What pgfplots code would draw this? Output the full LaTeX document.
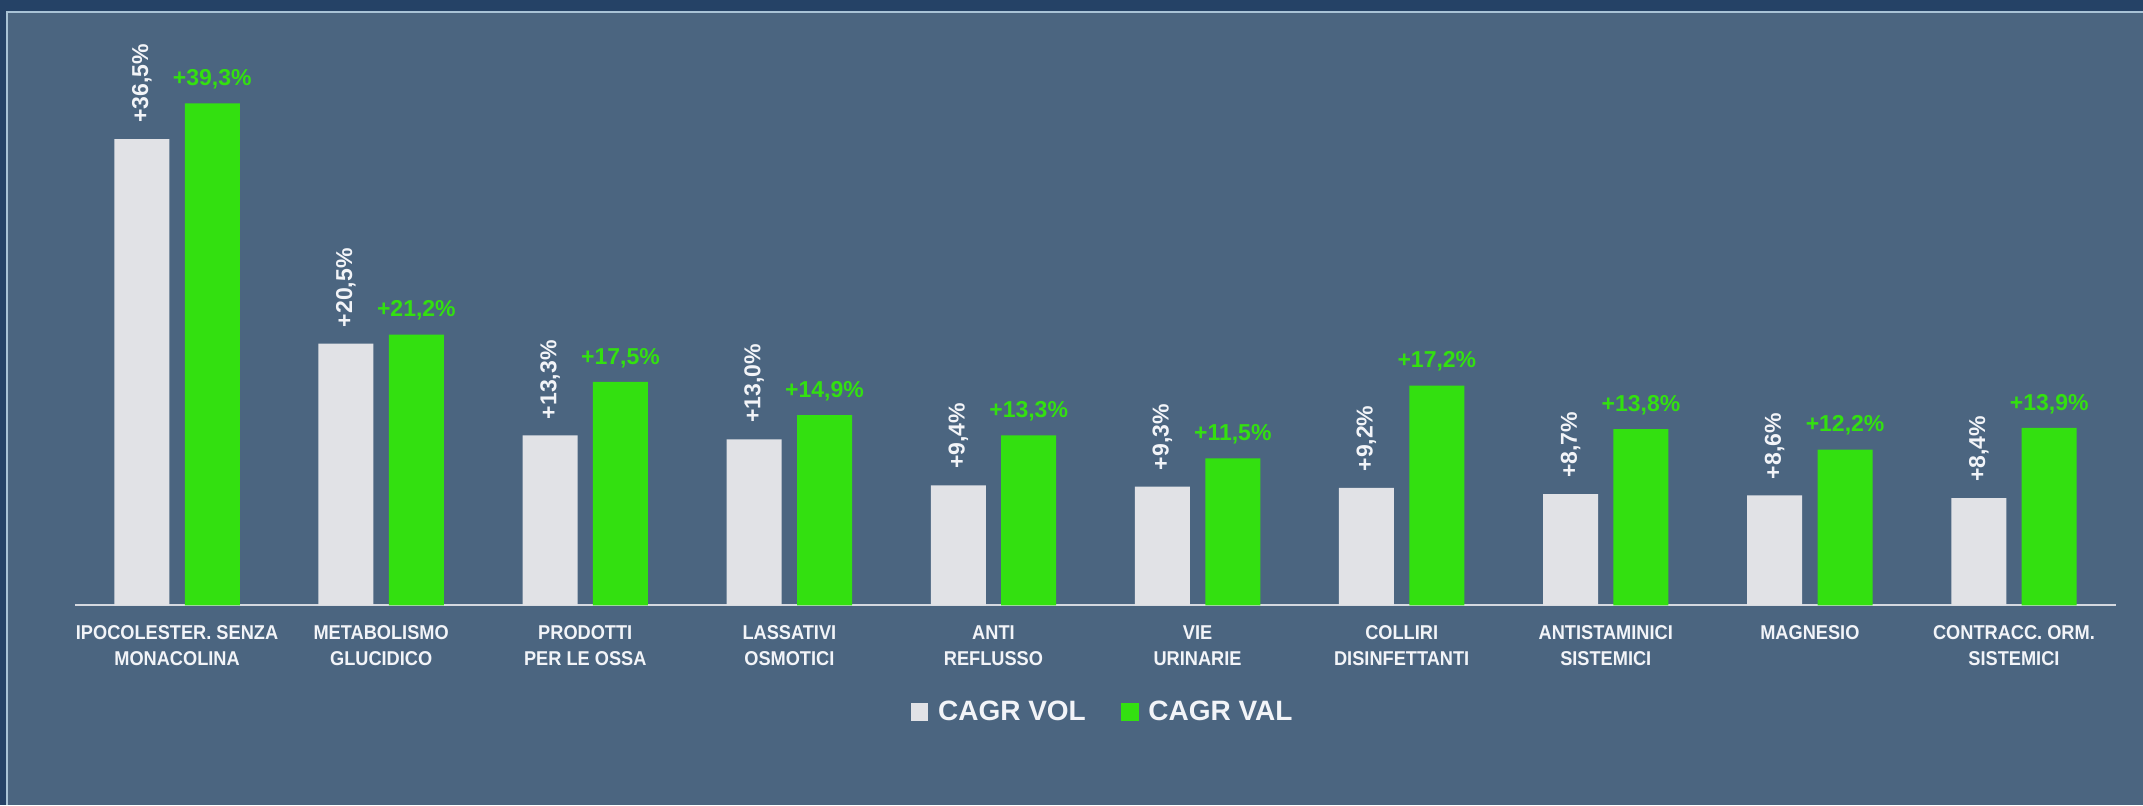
\documentclass[border=0pt]{standalone}
\usepackage{fontspec}
\setmainfont{Liberation Sans}
\newfontfamily\catf[FakeStretch=0.91]{Liberation Sans}
\usepackage{pgfplots}
\pgfplotsset{compat=1.18}
\definecolor{navy}{HTML}{254266}
\definecolor{slate}{HTML}{4B6580}
\definecolor{borderc}{HTML}{A9C3D6}
\definecolor{greyc}{HTML}{E1E2E6}
\definecolor{greenc}{HTML}{33E010}
\definecolor{axisc}{HTML}{D5D9E0}
\definecolor{labw}{HTML}{F2F4F8}
\begin{document}
\begin{tikzpicture}
\fill[navy] (0,0) rectangle (1071.5pt,402.5pt);
\fill[slate] (3pt,0) rectangle (1071.5pt,397pt);
\draw[borderc, line width=1pt] (3.5pt,0) -- (3.5pt,396.5pt) -- (1071.5pt,396.5pt);
\begin{axis}[
  at={(37.5pt,99.85pt)}, anchor=south west,
  scale only axis, width=1020.5pt, height=287.3pt,
  xmin=-0.5, xmax=9.5, ymin=0, ymax=45,
  axis y line=none,
  axis x line*=bottom,
  x axis line style={draw=axisc, line width=1pt, -},
  xtick={0,...,9},
  major tick length=0pt,
  xticklabels={{IPOCOLESTER. SENZA\\MONACOLINA},{METABOLISMO\\GLUCIDICO},{PRODOTTI\\PER LE OSSA},{LASSATIVI\\OSMOTICI},{ANTI\\REFLUSSO},{VIE\\URINARIE},{COLLIRI\\DISINFETTANTI},{ANTISTAMINICI\\SISTEMICI},{MAGNESIO},{CONTRACC. ORM.\\SISTEMICI}},
  xticklabel style={align=center, text=labw, inner sep=0pt, yshift=-9.85pt, font=\catf\bfseries\fontsize{10}{13.2}\selectfont},
  ybar, bar width=27.5pt,
  clip=false,
  legend style={at={(axis description cs:0.503,-0.1853)}, anchor=center, draw=none, fill=none, text=labw,
    font=\bfseries\fontsize{14}{16}\selectfont, legend columns=2, column sep=4.8pt,
    /tikz/every even column/.append style={column sep=17.6pt}, nodes={inner sep=0pt}},
  legend image code/.code={\fill[#1] (0pt,-4.55pt) rectangle (8.85pt,4.55pt);},
]
\addplot[fill=greyc, draw=none, bar shift=-17.6pt, point meta=explicit symbolic,
  nodes near coords,
  nodes near coords style={rotate=90, anchor=west, inner xsep=8pt, inner ysep=0pt, text=labw, font=\bfseries\fontsize{11.5}{13}\selectfont}]
coordinates {(0,36.5)[+36,5\%] (1,20.5)[+20,5\%] (2,13.3)[+13,3\%] (3,13.0)[+13,0\%] (4,9.4)[+9,4\%] (5,9.3)[+9,3\%] (6,9.2)[+9,2\%] (7,8.7)[+8,7\%] (8,8.6)[+8,6\%] (9,8.4)[+8,4\%]};
\addplot[fill=greenc, draw=none, bar shift=17.6pt, point meta=explicit symbolic,
  nodes near coords,
  nodes near coords style={anchor=base, inner sep=0pt, yshift=8.85pt, text=greenc, font=\bfseries\fontsize{11.5}{13}\selectfont}]
coordinates {(0,39.3)[+39,3\%] (1,21.2)[+21,2\%] (2,17.5)[+17,5\%] (3,14.9)[+14,9\%] (4,13.3)[+13,3\%] (5,11.5)[+11,5\%] (6,17.2)[+17,2\%] (7,13.8)[+13,8\%] (8,12.2)[+12,2\%] (9,13.9)[+13,9\%]};
\legend{CAGR VOL, CAGR VAL}
\end{axis}
\pgfresetboundingbox
\useasboundingbox (0,0) rectangle (1071.5pt,402.5pt);
\end{tikzpicture}
\end{document}
